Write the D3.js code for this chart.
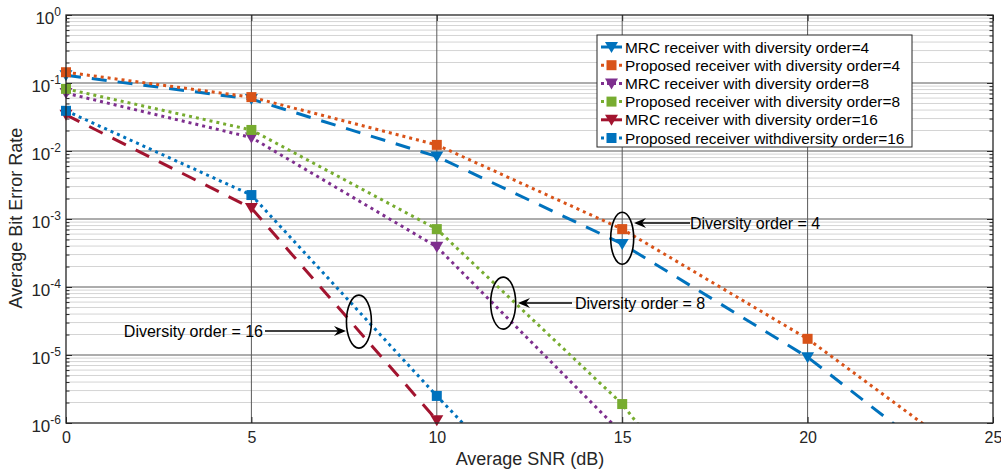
<!DOCTYPE html>
<html>
<head>
<meta charset="utf-8">
<script src="https://cdn.jsdelivr.net/npm/d3@7"></script>
<style>
  html, body { margin: 0; padding: 0; background: #fff; }
  svg { display: block; font-family: "Liberation Sans", Arial, sans-serif; }
</style>
</head>
<body>
<svg id="chart" width="1001" height="474"></svg>
<script>
// Average SNR (dB) sample points
const snr = [0, 5, 10, 15, 20, 25];

// Bit error rate for each receiver / diversity order (null = beyond plotted range)
const mrc4   = [0.13,  0.058,  0.0083, 4.3e-4, 9.3e-6,  7.2e-8];
const prop4  = [0.144, 0.062,  0.0123, 7.1e-4, 1.73e-5, 1.7e-7];
const mrc8   = [0.071, 0.0158, 3.9e-4, 7.0e-7, null,    null];
const prop8  = [0.082, 0.0204, 7.1e-4, 1.9e-6, 6e-10,   null];
const mrc16  = [0.034, 1.45e-3, 1.1e-6, null,  null,    null];
const prop16 = [0.039, 2.25e-3, 2.5e-6, 3.5e-9, null,   null];

const seriesNames = [
  "MRC receiver with diversity order=4",
  "Proposed receiver with diversity order=4",
  "MRC receiver with diversity order=8",
  "Proposed receiver with diversity order=8",
  "MRC receiver with diversity order=16",
  "Proposed receiver withdiversity order=16"
];

const xTicks = [0, 5, 10, 15, 20, 25];
const yTickExps = [0, -1, -2, -3, -4, -5, -6];

const series = [
  { name: seriesNames[0], values: mrc4,   color: "#0072BD", dash: "15,11", marker: "tri" },
  { name: seriesNames[1], values: prop4,  color: "#D95319", dash: "3,4",   marker: "sq" },
  { name: seriesNames[2], values: mrc8,   color: "#7E2F8E", dash: "3,4",   marker: "tri" },
  { name: seriesNames[3], values: prop8,  color: "#77AC30", dash: "3,4",   marker: "sq" },
  { name: seriesNames[4], values: mrc16,  color: "#A2142F", dash: "15,11", marker: "tri" },
  { name: seriesNames[5], values: prop16, color: "#0072BD", dash: "3,4",   marker: "sq" }
];

const svg = d3.select("#chart");
const L = 66, R = 993, T = 15, B = 423;

const x = d3.scaleLinear().domain([0, 25]).range([L, R]);
const y = d3.scaleLog().domain([1e-6, 1]).range([B, T]);

svg.append("defs").append("clipPath").attr("id", "plotClip")
  .append("rect").attr("x", L).attr("y", T).attr("width", R - L).attr("height", B - T);

// Grid: minor (light) then major (dark)
const grid = svg.append("g");
const minorVals = [];
for (let e = -6; e < 0; e++) for (let m = 2; m <= 9; m++) minorVals.push(m * Math.pow(10, e));
grid.selectAll(".minor").data(minorVals).join("line")
  .attr("x1", L).attr("x2", R)
  .attr("y1", d => y(d)).attr("y2", d => y(d))
  .attr("stroke", "#d4d4d4").attr("stroke-width", 1);
grid.selectAll(".majY").data(yTickExps.slice(1, -1)).join("line")
  .attr("x1", L).attr("x2", R)
  .attr("y1", d => y(Math.pow(10, d))).attr("y2", d => y(Math.pow(10, d)))
  .attr("stroke", "#5a5a5a").attr("stroke-width", 1);
grid.selectAll(".majX").data(xTicks.slice(1, -1)).join("line")
  .attr("x1", d => x(d)).attr("x2", d => x(d))
  .attr("y1", T).attr("y2", B)
  .attr("stroke", "#5a5a5a").attr("stroke-width", 1);

// Axes with inward ticks on all four sides
const axisColor = "#262626";
const xb = svg.append("g").attr("transform", `translate(0,${B})`)
  .call(d3.axisBottom(x).tickValues(xTicks).tickSize(-6).tickSizeOuter(0).tickFormat(d3.format("d")));
const xt = svg.append("g").attr("transform", `translate(0,${T})`)
  .call(d3.axisTop(x).tickValues(xTicks).tickSize(-6).tickSizeOuter(0).tickFormat(""));
const yl = svg.append("g").attr("transform", `translate(${L},0)`)
  .call(d3.axisLeft(y).tickValues(yTickExps.map(e => Math.pow(10, e))).tickSize(-6).tickSizeOuter(0).tickFormat(""));
const yr = svg.append("g").attr("transform", `translate(${R},0)`)
  .call(d3.axisRight(y).tickValues(yTickExps.map(e => Math.pow(10, e))).tickSize(-6).tickSizeOuter(0).tickFormat(""));
const ylm = svg.append("g").attr("transform", `translate(${L},0)`)
  .call(d3.axisLeft(y).tickValues(minorVals).tickSize(-3.5).tickSizeOuter(0).tickFormat(""));
const yrm = svg.append("g").attr("transform", `translate(${R},0)`)
  .call(d3.axisRight(y).tickValues(minorVals).tickSize(-3.5).tickSizeOuter(0).tickFormat(""));
[xb, xt, yl, yr, ylm, yrm].forEach(g => {
  g.select(".domain").remove();
  g.selectAll("line").attr("stroke", axisColor);
});
xb.selectAll("text").attr("fill", axisColor).attr("font-size", 16)
  .attr("font-family", "Liberation Sans, Arial, sans-serif").attr("y", 9).attr("dy", "0.71em");

// Y tick labels as 10^n
const yLab = svg.append("g").attr("fill", axisColor);
yTickExps.forEach(e => {
  const t = yLab.append("text").attr("x", 61).attr("y", y(Math.pow(10, e)) + 8.5)
    .attr("text-anchor", "end").attr("font-size", 17);
  t.append("tspan").text("10");
  t.append("tspan").attr("font-size", 12).attr("dy", -8).text(String(e));
});

// Series lines and markers
const line = d3.line()
  .defined(d => d.v !== null)
  .x(d => x(d.x)).y(d => y(d.v));

const triPath = "M-6.5,-5 L6.5,-5 L0,6 Z";
const sqPath = "M-5,-5 L5,-5 L5,5 L-5,5 Z";

const plot = svg.append("g");
series.forEach(s => {
  const pts = snr.map((xv, i) => ({ x: xv, v: s.values[i] }));
  plot.append("path").datum(pts)
    .attr("clip-path", "url(#plotClip)")
    .attr("fill", "none").attr("stroke", s.color).attr("stroke-width", 3)
    .attr("stroke-dasharray", s.dash)
    .attr("d", line);
  const shown = pts.filter(d => d.v !== null && d.v >= 1e-6 && d.v <= 1 && d.x <= 25);
  plot.selectAll(null).data(shown).join("path")
    .attr("transform", d => `translate(${x(d.x)},${y(d.v)})`)
    .attr("d", s.marker === "tri" ? triPath : sqPath)
    .attr("fill", s.color);
});

// Axes box
svg.append("rect").attr("x", L).attr("y", T).attr("width", R - L).attr("height", B - T)
  .attr("fill", "none").attr("stroke", axisColor).attr("stroke-width", 1.3);

// Axis titles
svg.append("text").attr("x", 530).attr("y", 465).attr("text-anchor", "middle")
  .attr("font-size", 18).attr("fill", axisColor).text("Average SNR (dB)");
svg.append("text").attr("transform", "translate(22,218) rotate(-90)").attr("text-anchor", "middle")
  .attr("font-size", 18).attr("fill", axisColor).text("Average Bit Error Rate");

// Legend
const lg = svg.append("g");
lg.append("rect").attr("x", 597).attr("y", 35).attr("width", 315).attr("height", 112)
  .attr("fill", "#fff").attr("stroke", "#262626").attr("stroke-width", 1);
series.forEach((s, i) => {
  const cy = 47 + i * 18.2;
  const row = lg.append("g");
  const solidSample = s.dash.startsWith("15");
  row.append("line").attr("x1", 601).attr("x2", 622).attr("y1", cy).attr("y2", cy)
    .attr("stroke", s.color).attr("stroke-width", 3)
    .attr("stroke-dasharray", solidSample ? null : "3,3");
  row.append("path").attr("transform", `translate(611.5,${cy})`)
    .attr("d", s.marker === "tri" ? triPath : sqPath).attr("fill", s.color);
  row.append("text").attr("x", 625).attr("y", cy + 5.5).attr("font-size", 15.4)
    .attr("fill", "#000").text(s.name);
});

// Annotations: ellipses around the curves with arrows and labels
function arrowHead(tipX, tipY, dir) {
  // dir = -1 points left, +1 points right
  const b = tipX - dir * 12, n = tipX - dir * 8;
  svg.append("path")
    .attr("d", `M${tipX},${tipY} L${b},${tipY - 5} L${n},${tipY} L${b},${tipY + 5} Z`)
    .attr("fill", "#000");
}
const notes = [
  { cx: 15.0,  cy: 5.2e-4, rx: 11.5, ry: 26,   ax0: 690, ay: 223, ax1: 634, text: "Diversity order = 4",  tx: 690, ty: 229, anchor: "start" },
  { cx: 11.79, cy: 5.8e-5, rx: 12.5, ry: 26,   ax0: 572, ay: 303, ax1: 518, text: "Diversity order = 8",  tx: 575, ty: 309, anchor: "start" },
  { cx: 7.90,  cy: 3.1e-5, rx: 12.5, ry: 26.5, ax0: 265, ay: 331, ax1: 346, text: "Diversity order = 16", tx: 263, ty: 337, anchor: "end" }
];
notes.forEach(n => {
  svg.append("ellipse").attr("cx", x(n.cx)).attr("cy", y(n.cy)).attr("rx", n.rx).attr("ry", n.ry)
    .attr("fill", "none").attr("stroke", "#000").attr("stroke-width", 1.6);
  const dir = n.ax1 < n.ax0 ? -1 : 1;
  svg.append("line").attr("x1", n.ax0).attr("y1", n.ay).attr("x2", n.ax1 - dir * 8).attr("y2", n.ay)
    .attr("stroke", "#000").attr("stroke-width", 1.5);
  arrowHead(n.ax1, n.ay, dir);
  svg.append("text").attr("x", n.tx).attr("y", n.ty).attr("text-anchor", n.anchor)
    .attr("font-size", 16).attr("fill", "#000").text(n.text);
});
</script>
</body>
</html>
